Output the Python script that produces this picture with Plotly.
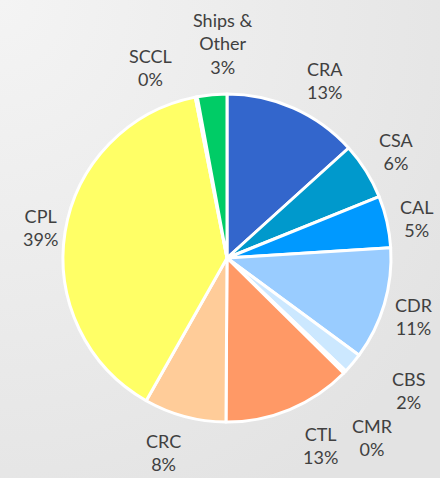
import base64
import math
import plotly.graph_objects as go

labels = ["CRA", "CSA", "CAL", "CDR", "CBS", "CMR", "CTL", "CRC", "CPL", "SCCL", "Ships &<br>Other"]
values = [13.3, 5.6, 5.1, 11.1, 2.0, 0.3, 12.7, 8.1, 38.7, 0.2, 2.9]
colors = ["#3366cc", "#0099cc", "#0099ff", "#99ccff", "#cce8ff", "#e6f3ff",
          "#ff9966", "#ffcc99", "#ffff66", "#66cc99", "#00cc66"]
# small angular (deg) and radial (px) nudges to keep crowded labels apart, as in the original
label_nudge = [5, 0, 1, 1, -4, 7, -4, 3, 0, -11, 4]
label_push = [0, 0, 0, 0, 24, 28, 6, 2, -4, 0, 2]

W, H = 440, 478
ML, MR, MT, MB = 63, 49, 94, 56
PW, PH = W - ML - MR, H - MT - MB
CX, CY, R = ML + PW / 2, MT + PH / 2, min(PW, PH) / 2

FONT = "Lato, Open Sans, sans-serif"
FS = 18
total = sum(values)

annotations = []
cum = 0.0
for lab, v, nd, pu in zip(labels, values, label_nudge, label_push):
    mid = (cum + v / 2) / total * 360 + nd
    cum += v
    th = math.radians(mid)
    lines = lab.split("<br>") + [f"{v / total:.0%}"]
    w = max(len(s) for s in lines) * 17 * 0.55
    h = len(lines) * 17 * 1.45
    d = R + 11 + pu + abs(math.sin(th)) * w / 2 + abs(math.cos(th)) * h / 2
    px = CX + d * math.sin(th)
    py = CY - d * math.cos(th)
    annotations.append(dict(
        text="<br>".join(lines), x=(px - ML) / PW, y=1 - (py - MT) / PH,
        xref="paper", yref="paper", xanchor="center", yanchor="middle",
        showarrow=False, align="center",
        font=dict(family=FONT, size=FS, color="#404040"),
    ))

svg = ('<svg xmlns="http://www.w3.org/2000/svg" width="440" height="478" preserveAspectRatio="none">'
       '<defs><radialGradient id="g" cx="0" cy="0" r="1.2">'
       '<stop offset="0" stop-color="#f4f4f4"/><stop offset="1" stop-color="#e3e3e3"/>'
       '</radialGradient></defs><rect width="440" height="478" fill="url(#g)"/></svg>')
bg = "data:image/svg+xml;base64," + base64.b64encode(svg.encode()).decode()

fig = go.Figure(go.Pie(
    labels=labels, values=values, sort=False, direction="clockwise", rotation=0,
    marker=dict(colors=colors, line=dict(color="white", width=3)),
    textinfo="none", showlegend=False, hoverinfo="label+percent",
))
fig.update_layout(
    width=W, height=H,
    margin=dict(l=ML, r=MR, t=MT, b=MB),
    paper_bgcolor="#ebebeb",
    annotations=annotations,
    images=[dict(source=bg, xref="paper", yref="paper",
                 x=-ML / PW, y=1 + MT / PH, sizex=W / PW, sizey=H / PH,
                 xanchor="left", yanchor="top", sizing="stretch", layer="below")],
)
fig.write_html("out.html")
